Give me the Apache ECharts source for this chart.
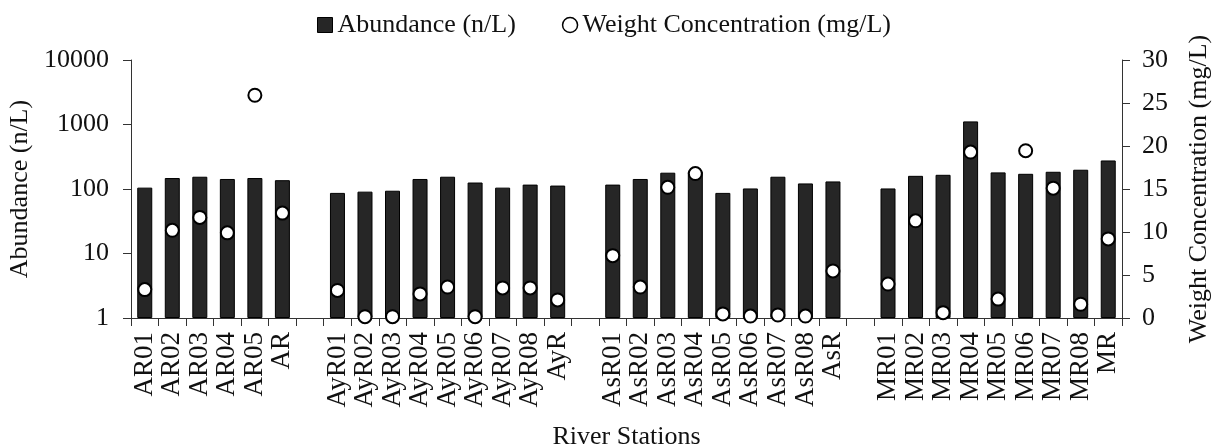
<!DOCTYPE html>
<html>
<head>
<meta charset="utf-8">
<script src="https://cdn.jsdelivr.net/npm/echarts@6/dist/echarts.min.js"></script>
<style>
html,body{margin:0;padding:0;background:#fff;}
#chart{width:1213px;height:447px;}
</style>
</head>
<body>
<div id="chart"></div>
<script>
const categories = ['AR01','AR02','AR03','AR04','AR05','AR',' ',
  'AyR01','AyR02','AyR03','AyR04','AyR05','AyR06','AyR07','AyR08','AyR','  ',
  'AsR01','AsR02','AsR03','AsR04','AsR05','AsR06','AsR07','AsR08','AsR','   ',
  'MR01','MR02','MR03','MR04','MR05','MR06','MR07','MR08','MR'];
const abundance = [105,148,155,143,148,137,null,
  87,91,94,143,155,126,105,117,113,null,
  117,143,179,185,87,102,155,122,131,null,
  102,160,166,1117,181,172,185,199,277];
const weightConc = [3.3,10.2,11.7,9.9,25.9,12.2,null,
  3.2,0.15,0.15,2.8,3.6,0.15,3.5,3.5,2.1,null,
  7.25,3.6,15.2,16.8,0.47,0.23,0.35,0.23,5.47,null,
  3.95,11.3,0.62,19.3,2.2,19.45,15.1,1.6,9.2];
const leftTicks = [1,10,100,1000,10000];
const rightTicks = [0,5,10,15,20,25,30];
const seriesNames = ['Abundance (n/L)','Weight Concentration (mg/L)'];

const font = 'Liberation Serif';
const txt = '#111';
const axisCol = '#333';
const chart = echarts.init(document.getElementById('chart'), null, {renderer:'canvas'});
chart.setOption({
  animation:false,
  backgroundColor:'#fff',
  textStyle:{fontFamily:font,color:txt},
  legend:{
    left:312, top:7, itemWidth:15, itemHeight:15, itemGap:46,
    textStyle:{fontFamily:font,fontSize:26,color:txt},
    data:[
      {name:seriesNames[0], icon:'rect', itemStyle:{color:'#262626',borderColor:'#000',borderWidth:1}},
      {name:seriesNames[1], icon:'circle', itemStyle:{color:'#fff',borderColor:'#000',borderWidth:1.5}}
    ]
  },
  grid:{left:131,right:91,top:60,bottom:129,containLabel:false,outerBoundsMode:'none'},
  xAxis:{
    type:'category', data:categories, boundaryGap:true,
    name:'River Stations', nameLocation:'middle', nameGap:106,
    nameTextStyle:{fontFamily:font,fontSize:26,color:txt},
    axisLine:{lineStyle:{color:axisCol,width:1}},
    axisTick:{show:true,length:8,interval:0,lineStyle:{color:axisCol}},
    axisLabel:{interval:0,rotate:90,margin:14,fontFamily:font,fontSize:27,color:txt},
    splitLine:{show:false}
  },
  yAxis:[
    {
      type:'log', logBase:10, min:leftTicks[0], max:leftTicks[leftTicks.length-1],
      name:'Abundance (n/L)', nameLocation:'middle', nameRotate:90, nameGap:93,
      nameTextStyle:{fontFamily:font,fontSize:26,color:txt},
      axisLine:{show:true,lineStyle:{color:axisCol,width:1}},
      axisTick:{show:true,length:8,lineStyle:{color:axisCol}},
      axisLabel:{margin:22,fontFamily:font,fontSize:26,color:txt,formatter:function(v){return String(Math.round(v));}},
      splitLine:{show:false}, minorTick:{show:false}
    },
    {
      type:'value', min:rightTicks[0], max:rightTicks[rightTicks.length-1], interval:5,
      position:'right',
      name:'Weight Concentration (mg/L)', nameLocation:'middle', nameRotate:90, nameGap:64,
      nameTextStyle:{fontFamily:font,fontSize:26,color:txt},
      axisLine:{show:true,lineStyle:{color:axisCol,width:1}},
      axisTick:{show:true,length:8,lineStyle:{color:axisCol}},
      axisLabel:{margin:20,fontFamily:font,fontSize:26,color:txt},
      splitLine:{show:false}
    }
  ],
  series:[
    {
      name:seriesNames[0], type:'bar', yAxisIndex:0, data:abundance, barWidth:15,
      itemStyle:{color:'#262626',borderColor:'#000',borderWidth:1}
    },
    {
      name:seriesNames[1], type:'scatter', yAxisIndex:1, data:weightConc,
      symbol:'circle', symbolSize:13, z:5,
      itemStyle:{color:'#fff',borderColor:'#000',borderWidth:2,opacity:1}
    }
  ]
});
</script>
</body>
</html>
